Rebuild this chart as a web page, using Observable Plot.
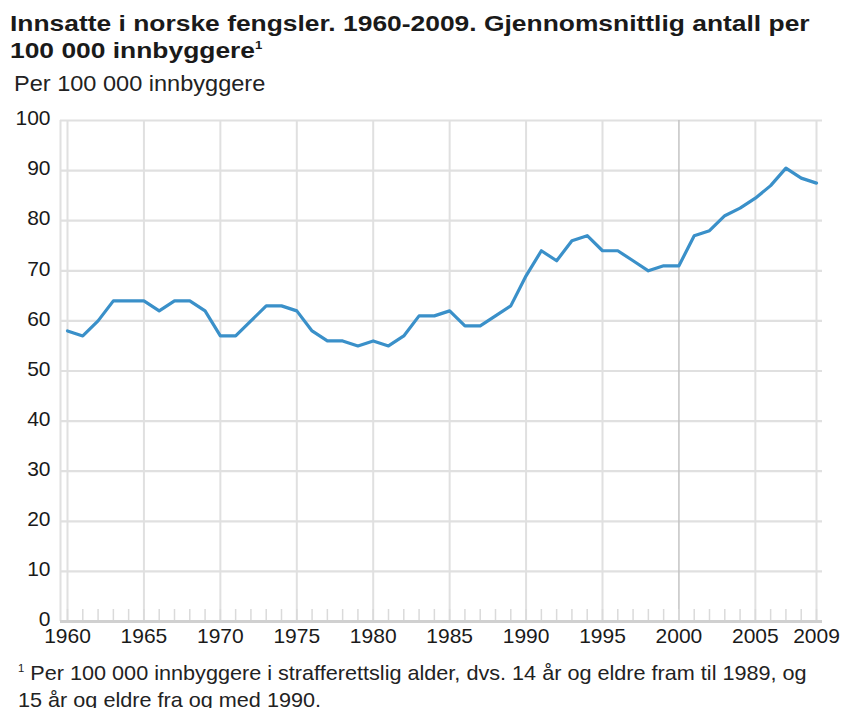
<!DOCTYPE html>
<html>
<head>
<meta charset="utf-8">
<script src="https://cdn.jsdelivr.net/npm/d3@7"></script>
<script src="https://cdn.jsdelivr.net/npm/@observablehq/plot@0.6"></script>
<style>
  html, body { margin: 0; padding: 0; background: #fff; }
  body { width: 842px; height: 708px; position: relative; overflow: hidden; font-family: "Liberation Sans", Arial, sans-serif; color: #1a1a1a; }
  .t { position: absolute; white-space: nowrap; transform-origin: 0 0; }
  #title { left: 10px; top: 10px; font-size: 22px; font-weight: bold; line-height: 27px; transform: scaleX(1.2); }
  #title sup { font-size: 11px; vertical-align: 9px; line-height: 0; }
  #subtitle { left: 14px; top: 73px; font-size: 22px; line-height: 22px; color: #222; transform: scaleX(1.07); }
  #chart { position: absolute; left: 0; top: 100px; }
  #foot { left: 18px; top: 659px; font-size: 21px; line-height: 27px; color: #222; transform: scaleX(1.03); }
  #foot sup { font-size: 11px; vertical-align: 8px; line-height: 0; }
</style>
</head>
<body>
<div id="title" class="t">Innsatte i norske fengsler. 1960-2009. Gjennomsnittlig antall per<br>100 000 innbyggere<sup>1</sup></div>
<div id="subtitle" class="t">Per 100 000 innbyggere</div>
<div id="chart"></div>
<div id="foot" class="t"><sup>1</sup> Per 100 000 innbyggere i strafferettslig alder, dvs. 14 år og eldre fram til 1989, og<br>15 år og eldre fra og med 1990.</div>
<script>
const years = d3.range(1960, 2010);
const values = [
  58, 57, 60, 64, 64, 64, 62, 64, 64, 62,
  57, 57, 60, 63, 63, 62, 58, 56, 56, 55,
  56, 55, 57, 61, 61, 62, 59, 59, 61, 63,
  69, 74, 72, 76, 77, 74, 74, 72, 70, 71,
  71, 77, 78, 81, 82.5, 84.5, 87, 90.5, 88.5, 87.5
];
const yTicks = [0, 10, 20, 30, 40, 50, 60, 70, 80, 90, 100];
const xTicks = [1960, 1965, 1970, 1975, 1980, 1985, 1990, 1995, 2000, 2005, 2009];
const gridYears = [1960, 1965, 1970, 1975, 1980, 1985, 1990, 1995, 2005, 2009];

const data = years.map((y, i) => ({year: y, value: values[i]}));

const chart = Plot.plot({
  width: 842,
  height: 570,
  marginLeft: 67,
  marginRight: 26,
  marginTop: 20,
  marginBottom: 49,
  style: {fontFamily: "Liberation Sans, Arial, sans-serif", fontSize: "21px", color: "#1a1a1a", background: "#fff", overflow: "visible"},
  x: {domain: [1960, 2009]},
  y: {domain: [0, 100]},
  marks: [
    Plot.ruleY(yTicks.filter(d => d > 0), {stroke: "#e0e0e0", strokeWidth: 2.2, insetLeft: -7, insetRight: -6}),
    Plot.ruleX([1960], {stroke: "#e0e0e0", strokeWidth: 2, dx: -7}),
    Plot.ruleX(gridYears, {stroke: "#e0e0e0", strokeWidth: 2}),
    Plot.ruleX([2000], {stroke: "#c4c4c4", strokeWidth: 1.5}),
    Plot.ruleX(years, {stroke: "#dadada", strokeWidth: 1.5, insetTop: 489}),
    Plot.ruleY([0], {stroke: "#d0d0d0", strokeWidth: 3, insetLeft: -7, insetRight: -6}),
    Plot.axisY({ticks: yTicks, tickSize: 0, tickPadding: 17, fontSize: 21, label: null, dy: -2}),
    Plot.axisX({ticks: xTicks, tickSize: 0, tickPadding: 7, fontSize: 21, label: null, tickFormat: d => String(d)}),
    Plot.line(data, {x: "year", y: "value", stroke: "#3a90c9", strokeWidth: 3.2, strokeLinejoin: "round", strokeLinecap: "round"})
  ]
});
document.getElementById("chart").appendChild(chart);
</script>
</body>
</html>
